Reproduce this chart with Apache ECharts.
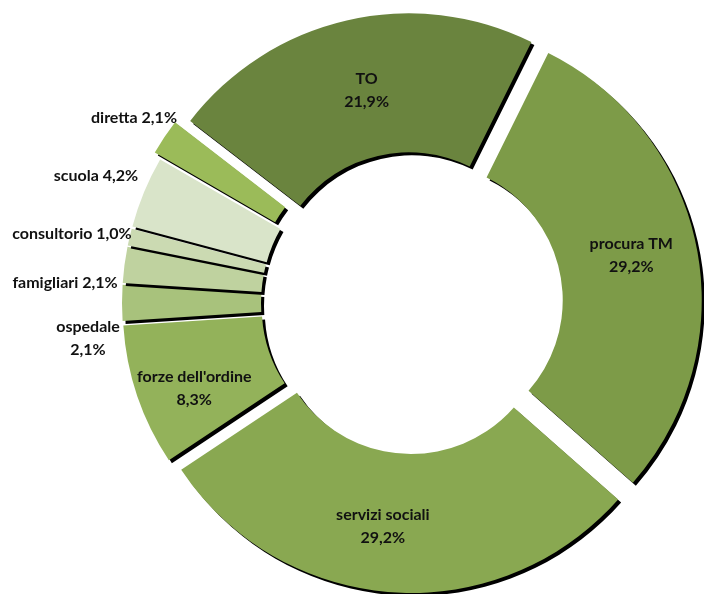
<!DOCTYPE html>
<html>
<head>
<meta charset="utf-8">
<script src="https://cdn.jsdelivr.net/npm/echarts@6/dist/echarts.min.js"></script>
<style>
  html, body { margin: 0; padding: 0; background: #ffffff; }
  #chart { width: 704px; height: 594px; }
</style>
</head>
<body>
<div id="chart"></div>
<script>
// Segnalazioni per canale di provenienza (%)
const categories = ['TO', 'procura TM', 'servizi sociali', "forze dell'ordine", 'ospedale', 'famigliari', 'consultorio', 'scuola', 'diretta'];
const shares = [21.9, 29.2, 29.2, 8.3, 2.1, 2.1, 1.0, 4.2, 2.1];
const shareLabels = ['21,9%', '29,2%', '29,2%', '8,3%', '2,1%', '2,1%', '1,0%', '4,2%', '2,1%'];

// Appearance
const sliceColors = ['#6a843e', '#7d9b48', '#89a851', '#93b25a', '#a8c27c', '#bfd29f', '#cbdab2', '#d9e4c9', '#9bbb59'];
const explodePx = [14, 14, 14, 14, 14, 14, 14, 14, 22];
const labelOnTwoLines = [true, true, true, true, true, false, false, false, false];
const labelInside = [true, true, true, true, false, false, false, false, false];
// small nudges for the labels drawn on the slices
const insideLabelShift = [[5, 5], [0, -5], [-14, 0], [-6, 14]];
// anchor (centre of text block) for labels placed beside the ring
const sideLabelAnchor = { 4: [88, 338], 5: [65, 283], 6: [72, 234], 7: [96, 176], 8: [134, 118] };

const baseCenter = [412, 303];
const radii = [137, 276];
const startAngle = 142.4;
const fontFamily = 'Lato, "Open Sans", sans-serif';

const total = shares.reduce((a, b) => a + b, 0);

// mid angle of each slice in screen coordinates (clockwise, y down)
const midAngles = [];
let acc = 0;
shares.forEach(v => {
  const a0 = -startAngle * Math.PI / 180 + acc / total * 2 * Math.PI;
  acc += v;
  const a1 = -startAngle * Math.PI / 180 + acc / total * 2 * Math.PI;
  midAngles.push((a0 + a1) / 2);
});

// one ring per slice so every slice can be pulled out by its own amount
const series = categories.map((name, i) => {
  const dx = Math.cos(midAngles[i]) * explodePx[i];
  const dy = Math.sin(midAngles[i]) * explodePx[i];
  return {
    type: 'pie',
    name: name,
    center: [baseCenter[0] + dx, baseCenter[1] + dy],
    radius: radii,
    startAngle: startAngle,
    clockwise: true,
    avoidLabelOverlap: false,
    silent: true,
    animation: false,
    labelLine: { show: false },
    emphasis: { disabled: true },
    labelLayout: function (p) {
      const k = p.dataIndex;
      if (labelInside[k]) {
        const s = insideLabelShift[k];
        return { dx: s[0], dy: s[1] };
      }
      const at = sideLabelAnchor[k];
      return { x: at[0], y: at[1], align: 'center', verticalAlign: 'middle' };
    },
    data: shares.map((v, j) => ({
      name: categories[j],
      value: v,
      itemStyle: j === i ? {
        color: sliceColors[j],
        shadowColor: '#000000',
        shadowBlur: 0,
        shadowOffsetX: 3,
        shadowOffsetY: 3
      } : { color: 'rgba(0,0,0,0)' },
      label: {
        show: j === i,
        position: 'inside',
        formatter: categories[j] + (labelOnTwoLines[j] ? '\n' : ' ') + shareLabels[j],
        color: '#111111',
        fontFamily: fontFamily,
        fontWeight: 'bold',
        fontSize: 16,
        lineHeight: 23,
        align: 'center'
      }
    }))
  };
});

const chart = echarts.init(document.getElementById('chart'), null, { renderer: 'canvas' });
chart.setOption({
  backgroundColor: '#ffffff',
  animation: false,
  series: series
});
</script>
</body>
</html>
